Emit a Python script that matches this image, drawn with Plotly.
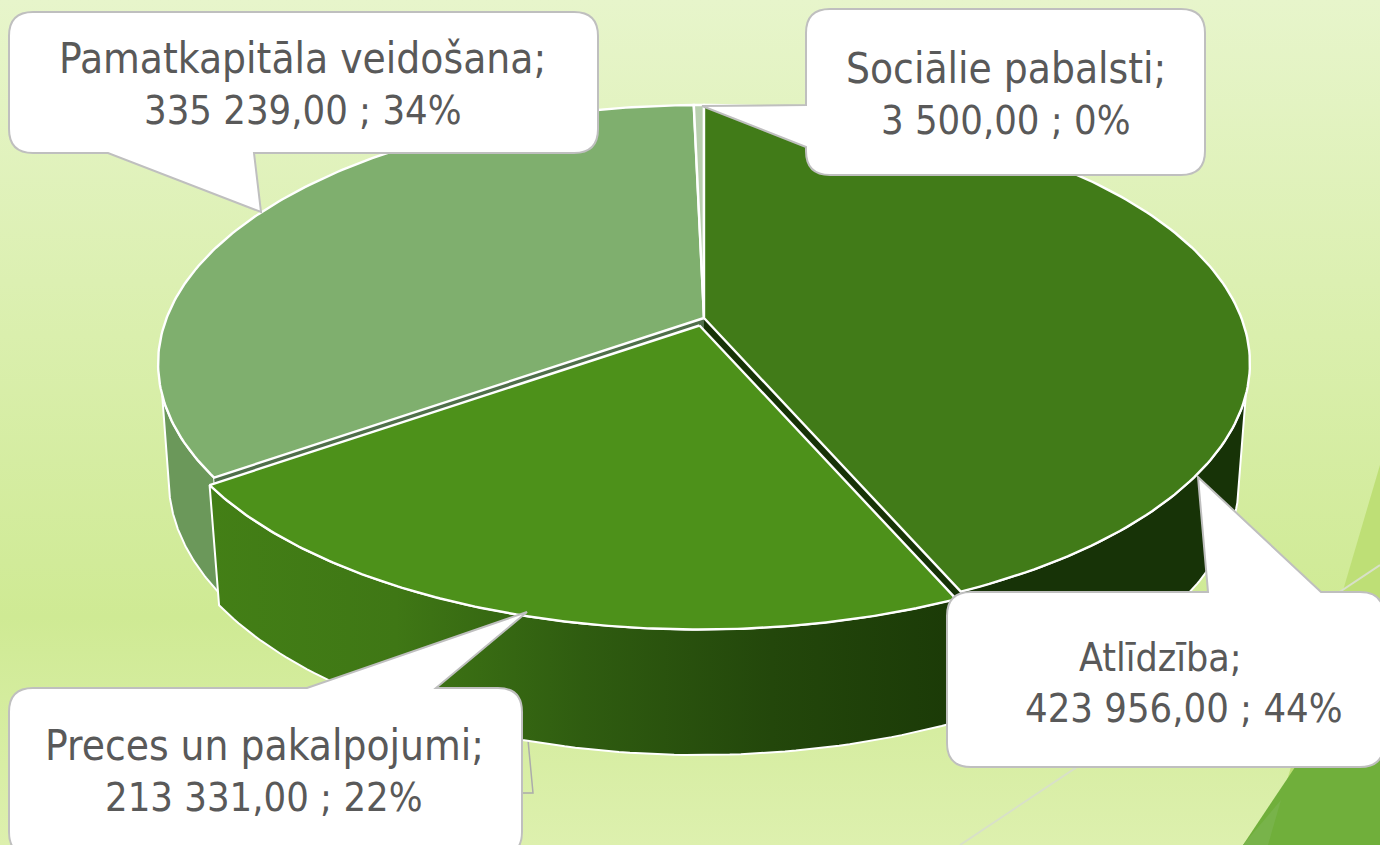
import numpy as np
import plotly.graph_objects as go

# ---- data
categories = ["Atlīdzība", "Preces un pakalpojumi", "Pamatkapitāla veidošana", "Sociālie pabalsti"]
values = [423956.00, 213331.00, 335239.00, 3500.00]
value_labels = ["423 956,00", "213 331,00", "335 239,00", "3 500,00"]
percent_labels = ["44%", "22%", "34%", "0%"]

top_colors = ["#417B18", "#4D911A", "#7FAF6E", "#B8CFAE"]
inner_colors = ["#173307", "#3B6F14", "#4F6F4A", "#90A888"]

W, H = 1380, 845
CX = 704
TOP = dict(y0=318.0, a=250.5, b=537.4, k=0.176)
BOT = dict(y0=432.3, a=259.7, b=527.0, k=0.176)
EXPLODE = {1: (-4.5, 7.5)}

vals = np.array(values)
edges = np.concatenate([[0], np.cumsum(vals) / vals.sum()]) * 2 * np.pi


def rim(t, p, off=(0, 0)):
    u, v = np.sin(t), np.cos(t)
    d = 1 + p["k"] * v
    return CX + p["b"] * u / d + off[0], p["y0"] - p["a"] * v / d + off[1]


def apex(p, off=(0, 0)):
    return CX + off[0], p["y0"] + off[1]


fig = go.Figure()


def poly(x, y, fill=None, line="white", lw=0, gradient=None):
    kw = dict(x=list(x), y=list(y), mode="lines", fill="toself", hoverinfo="skip", showlegend=False,
              line=dict(color=line, width=lw))
    if gradient:
        kw["fillgradient"] = gradient
    else:
        kw["fillcolor"] = fill
    if lw == 0:
        kw["line"] = dict(color="rgba(0,0,0,0)", width=0)
    fig.add_trace(go.Scatter(**kw))


# background and theme decoration
poly([0, W, W, 0], [0, 0, H, H], gradient=dict(
    type="vertical", start=0, stop=H,
    colorscale=[[0, "#E7F5CB"], [0.73, "#CFEA94"], [1, "#DDF0AE"]]))
poly([1380, 1380, 1268], [465, 845, 845], fill="#BEDF76")
poly([1243, 1380, 1380], [845, 640, 845], fill="#70AF3B")
poly([1243, 1268, 1281], [845, 845, 800], fill="#78B34A")
fig.add_trace(go.Scatter(x=[960, 1380], y=[845, 565], mode="lines", hoverinfo="skip", showlegend=False,
                         line=dict(color="#D8E0C8", width=2)))
fig.add_trace(go.Scatter(x=[528, 533, 522], y=[740, 793, 793], mode="lines", hoverinfo="skip", showlegend=False,
                         line=dict(color="#ABABAB", width=1.5)))


def wall(i, top_from, top_to, bot_from, bot_to, **style):
    off = EXPLODE.get(i, (0, 0))
    xt, yt = rim(np.linspace(top_from, top_to, 80), TOP, off)
    xb, yb = rim(np.linspace(bot_to, bot_from, 80), BOT, off)
    poly(np.r_[xt, xb, xt[0]], np.r_[yt, yb, yt[0]], line="white", lw=2, **style)


def inner(i, t):
    off = EXPLODE.get(i, (0, 0))
    xa, ya = apex(TOP, off)
    xr, yr = rim(t, TOP, off)
    xbr, ybr = rim(t, BOT, off)
    xba, yba = apex(BOT, off)
    poly([xa, xr, xbr, xba, xa], [ya, yr, ybr, yba, ya], fill=inner_colors[i])


def top(i):
    off = EXPLODE.get(i, (0, 0))
    t = np.linspace(edges[i], edges[i + 1], 160)
    xr, yr = rim(t, TOP, off)
    xa, ya = apex(TOP, off)
    poly(np.r_[xa, xr, xa], np.r_[ya, yr, ya], fill=top_colors[i], line="white", lw=2.4)


# back to front
wall(2, edges[2], np.radians(253), edges[2], np.radians(256), fill="#6B985A")
wall(0, np.radians(107), edges[1], np.radians(105), edges[1], fill="#173307")
inner(2, edges[2])
inner(0, edges[1])
top(2)
top(3)
top(0)
wall(1, edges[1], edges[2], edges[1], edges[2], gradient=dict(
    type="horizontal", start=208, stop=960,
    colorscale=[[0, "#437F16"], [0.25, "#3F7715"], [0.5, "#2F5C10"], [0.75, "#23470B"], [1, "#1B3A07"]]))
top(1)


def callout(x0, y0, x1, y1, tip, side, a, b, r=24):
    """Rounded box with a pointer; a,b are the pointer's base positions on the given side."""
    tx, ty = tip
    p = [f"M{x0 + r},{y0}"]
    if side == "top":
        p += [f"L{a},{y0}", f"L{tx},{ty}", f"L{b},{y0}"]
    p += [f"L{x1 - r},{y0}", f"Q{x1},{y0} {x1},{y0 + r}", f"L{x1},{y1 - r}", f"Q{x1},{y1} {x1 - r},{y1}"]
    if side == "bottom":
        p += [f"L{b},{y1}", f"L{tx},{ty}", f"L{a},{y1}"]
    p += [f"L{x0 + r},{y1}", f"Q{x0},{y1} {x0},{y1 - r}"]
    if side == "left":
        p += [f"L{x0},{b}", f"L{tx},{ty}", f"L{x0},{a}"]
    p += [f"L{x0},{y0 + r}", f"Q{x0},{y0} {x0 + r},{y0}", "Z"]
    return dict(type="path", path=" ".join(p), xref="x", yref="y", layer="above",
                fillcolor="white", line=dict(color="#BFBFBF", width=2))


shapes = [
    callout(9, 12, 598, 153, (261, 212), "bottom", 108, 254),
    callout(806, 9, 1205, 175, (702, 106), "left", 105, 147),
    callout(9, 688, 522, 856, (527, 612), "top", 307, 436),
    callout(947, 592, 1384, 767, (1198, 477), "top", 1208, 1321),
]

# (category index, centre x of line 1, y of line 1, size of line 1, centre x of line 2, y of line 2, size of line 2)
label_pos = {2: (302, 58, 42, 303, 110, 39.6), 3: (1006, 68, 42, 1006, 120, 39.6),
             1: (264, 745, 42, 264, 797, 39.6), 0: (1160, 657, 39, 1184, 708, 39.6)}
ann = []
for i, (x1, y1, s1, x2, y2, s2) in label_pos.items():
    for x, y, s, txt in ((x1, y1, s1, categories[i] + ";"), (x2, y2, s2, f"{value_labels[i]} ; {percent_labels[i]}")):
        ann.append(dict(x=x, y=y, text=txt, showarrow=False, xanchor="center", yanchor="middle",
                        font=dict(family="DejaVu Sans Condensed, DejaVu Sans", size=s, color="#595959")))

fig.update_layout(
    width=W, height=H, margin=dict(l=0, r=0, t=0, b=0), showlegend=False,
    paper_bgcolor="#DDF0AE", plot_bgcolor="rgba(0,0,0,0)",
    xaxis=dict(range=[0, W], visible=False, fixedrange=True),
    yaxis=dict(range=[H, 0], visible=False, fixedrange=True),
    shapes=shapes, annotations=ann,
)
fig.write_html("out.html", config={"displayModeBar": False},
               post_script="document.body.style.margin='0';document.body.style.overflow='hidden';")
